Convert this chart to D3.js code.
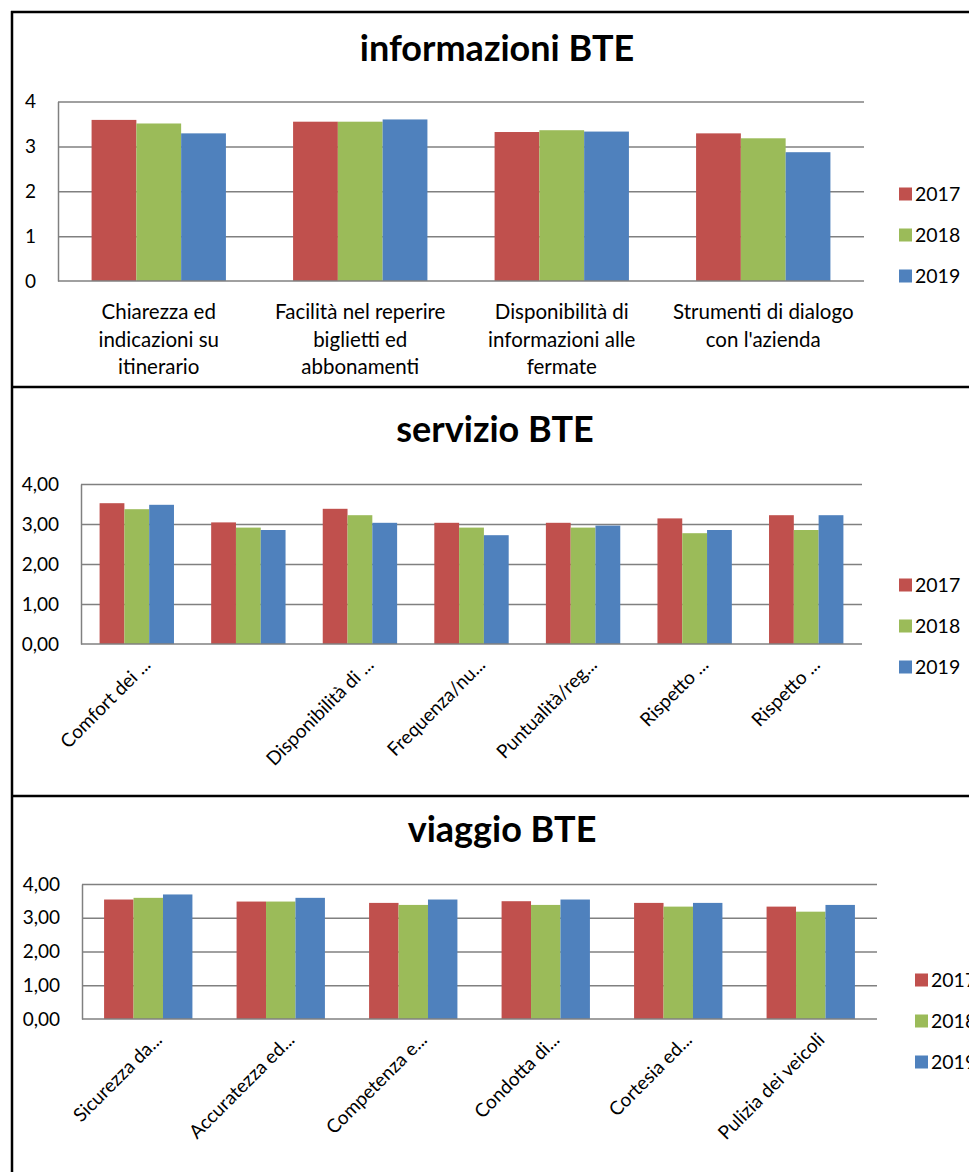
<!DOCTYPE html>
<html>
<head>
<meta charset="utf-8">
<script src="https://cdnjs.cloudflare.com/ajax/libs/d3/7.8.5/d3.min.js"></script>
<style>
  body { margin: 0; background: #fff; }
  svg { display: block; font-family: Lato, "Open Sans", sans-serif; }
</style>
</head>
<body>
<svg id="chart" width="969" height="1172"></svg>
<script>
var years = ["2017", "2018", "2019"];
var colours = ["#C0504D", "#9BBB59", "#4F81BD"];
var yTicks = [0, 1, 2, 3, 4];

// informazioni BTE
var infoLabels = [
  ["Chiarezza ed", "indicazioni su", "itinerario"],
  ["Facilità nel reperire", "biglietti ed", "abbonamenti"],
  ["Disponibilità di", "informazioni alle", "fermate"],
  ["Strumenti di dialogo", "con l'azienda"]
];
var info2017 = [3.59, 3.55, 3.32, 3.29];
var info2018 = [3.51, 3.55, 3.36, 3.18];
var info2019 = [3.29, 3.60, 3.33, 2.87];

// servizio BTE
var servLabels = ["Comfort dei ...", "", "Disponibilità di ...", "Frequenza/nu...",
  "Puntualità/reg...", "Rispetto ...", "Rispetto ..."];
var serv2017 = [3.52, 3.04, 3.38, 3.03, 3.03, 3.14, 3.22];
var serv2018 = [3.37, 2.91, 3.22, 2.91, 2.91, 2.77, 2.85];
var serv2019 = [3.48, 2.85, 3.03, 2.72, 2.96, 2.85, 3.22];

// viaggio BTE
var viagLabels = ["Sicurezza da...", "Accuratezza ed...", "Competenza e...",
  "Condotta di...", "Cortesia ed...", "Pulizia dei veicoli"];
var viag2017 = [3.54, 3.48, 3.44, 3.49, 3.44, 3.33];
var viag2018 = [3.59, 3.48, 3.38, 3.38, 3.33, 3.18];
var viag2019 = [3.69, 3.59, 3.54, 3.54, 3.44, 3.38];

var svg = d3.select("#chart");
var gridColour = "#808080";

var fmtInt = d3.format("d");
var fmtComma = function(d) { return d.toFixed(2).replace(".", ","); };

function drawPanel(p) {
  var g = svg.append("g");

  var x0 = d3.scaleBand()
    .domain(d3.range(p.labels.length))
    .range([p.left, p.right])
    .paddingInner(1 / 3)
    .paddingOuter(1 / 6);
  var x1 = d3.scaleBand().domain(years).range([0, x0.bandwidth()]);
  var y = d3.scaleLinear().domain([0, 4]).range([p.bottom, p.top]);

  // title
  g.append("text")
    .attr("x", p.titleX)
    .attr("y", p.titleY)
    .attr("text-anchor", "middle")
    .attr("font-size", 36)
    .attr("font-weight", "bold")
    .attr("fill", "#000")
    .text(p.title);

  // gridlines
  g.append("g")
    .attr("transform", "translate(" + p.left + ",0)")
    .call(d3.axisLeft(y).tickValues([1, 2, 3, 4]).tickSize(-(p.right - p.left)).tickFormat(""))
    .call(function(s) { s.select(".domain").remove(); })
    .selectAll("line")
    .attr("stroke", gridColour)
    .attr("stroke-width", 1.5);

  // y axis
  var yAxis = g.append("g")
    .attr("transform", "translate(" + p.left + ",0)")
    .call(d3.axisLeft(y).tickValues(yTicks).tickSize(0).tickPadding(22).tickFormat(p.fmt));
  yAxis.select(".domain").attr("stroke", gridColour).attr("stroke-width", 1.5);
  yAxis.selectAll("text").attr("font-size", 19).attr("fill", "#000")
    .attr("font-family", "Lato, sans-serif");

  // bars
  var rows = p.labels.map(function(l, i) {
    return { i: i, values: p.series.map(function(s) { return s[i]; }) };
  });
  g.selectAll(".grp")
    .data(rows)
    .join("g")
    .attr("class", "grp")
    .attr("transform", function(d) { return "translate(" + x0(d.i) + ",0)"; })
    .selectAll("rect")
    .data(function(d) { return d.values.map(function(v, k) { return { v: v, k: k }; }); })
    .join("rect")
    .attr("x", function(d) { return x1(years[d.k]); })
    .attr("width", x1.bandwidth())
    .attr("y", function(d) { return y(d.v); })
    .attr("height", function(d) { return y(0) - y(d.v); })
    .attr("fill", function(d) { return colours[d.k]; });

  // x axis line
  g.append("line")
    .attr("x1", p.left).attr("x2", p.right)
    .attr("y1", y(0)).attr("y2", y(0))
    .attr("stroke", gridColour).attr("stroke-width", 1.5);

  // category labels
  var cx = function(i) { return x0(i) + x0.bandwidth() / 2; };
  if (p.rotate) {
    g.selectAll(".cat")
      .data(p.labels)
      .join("text")
      .attr("class", "cat")
      .attr("text-anchor", "end")
      .attr("font-size", 19)
      .attr("fill", "#000")
      .attr("transform", function(d, i) {
        return "translate(" + (cx(i) + p.labelDx) + "," + (y(0) + p.labelDy) + ") rotate(-45)";
      })
      .text(function(d) { return d; });
  } else {
    var cats = g.selectAll(".cat")
      .data(p.labels)
      .join("text")
      .attr("class", "cat")
      .attr("text-anchor", "middle")
      .attr("font-size", 20.5)
      .attr("fill", "#000");
    cats.selectAll("tspan")
      .data(function(d, i) { return d.map(function(line) { return { line: line, i: i }; }); })
      .join("tspan")
      .attr("x", function(d) { return cx(d.i); })
      .attr("y", function(d, j) { return y(0) + 38 + j * 27.5; })
      .text(function(d) { return d.line; });
  }

  // legend
  var leg = g.selectAll(".leg")
    .data(years)
    .join("g")
    .attr("class", "leg")
    .attr("transform", function(d, k) { return "translate(" + p.legendX + "," + (p.legendY + k * 41) + ")"; });
  leg.append("rect")
    .attr("x", 0).attr("y", -6.5)
    .attr("width", 13).attr("height", 13)
    .attr("fill", function(d, k) { return colours[k]; });
  leg.append("text")
    .attr("x", 16).attr("dy", "0.35em")
    .attr("font-size", 19.5)
    .attr("fill", "#000")
    .text(function(d) { return d; });
}

drawPanel({
  title: "informazioni BTE", titleX: 497, titleY: 61,
  labels: infoLabels, series: [info2017, info2018, info2019],
  left: 58, right: 864, top: 101.5, bottom: 281,
  fmt: fmtInt, rotate: false,
  legendX: 899, legendY: 194
});

drawPanel({
  title: "servizio BTE", titleX: 495, titleY: 442,
  labels: servLabels, series: [serv2017, serv2018, serv2019],
  left: 81, right: 862, top: 484, bottom: 644,
  fmt: fmtComma, rotate: true, labelDx: 15, labelDy: 22,
  legendX: 899, legendY: 585
});

drawPanel({
  title: "viaggio BTE", titleX: 502, titleY: 842,
  labels: viagLabels, series: [viag2017, viag2018, viag2019],
  left: 82, right: 877, top: 884, bottom: 1019,
  fmt: fmtComma, rotate: true, labelDx: 15, labelDy: 22,
  legendX: 915, legendY: 980
});

// panel frame lines
var frame = svg.append("g").attr("stroke", "#000").attr("stroke-width", 2.5);
frame.append("line").attr("x1", 12).attr("x2", 12).attr("y1", 11).attr("y2", 1172);
[12, 387, 796].forEach(function(yy) {
  frame.append("line").attr("x1", 11).attr("x2", 969).attr("y1", yy).attr("y2", yy);
});
</script>
</body>
</html>
